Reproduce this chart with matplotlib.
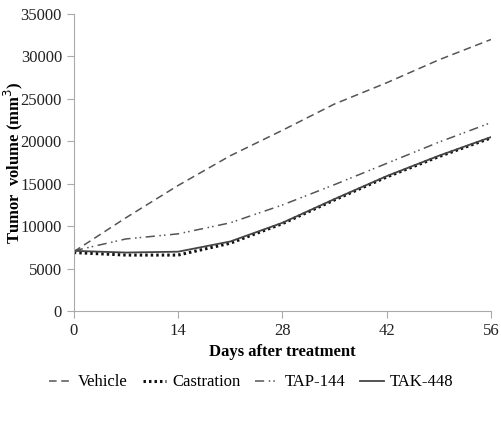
import numpy as np
import matplotlib.pyplot as plt

days = [0, 7, 14, 21, 28, 35, 42, 49, 56]
vehicle = [7000, 11000, 14800, 18300, 21300, 24400, 26900, 29600, 32000]
castration = [6900, 6600, 6600, 8000, 10300, 13100, 15800, 18200, 20400]
tap144 = [7100, 8500, 9100, 10400, 12500, 14900, 17400, 19900, 22200]
tak448 = [7100, 6900, 7000, 8200, 10400, 13200, 15900, 18300, 20500]

xticks = [0, 14, 28, 42, 56]
yticks = np.arange(0, 35001, 5000)

plt.rcParams['font.family'] = ['Liberation Serif']
fig = plt.figure(figsize=(5.02, 4.25), dpi=100)
ax = fig.add_axes([0.147, 0.268, 0.831, 0.699])

ax.plot(days, vehicle, color='#555555', lw=1.1, dashes=(5, 3), label='Vehicle')
ax.plot(days, castration, color='#111111', lw=2.2, dashes=(0.8, 1.0), label='Castration')
ax.plot(days, tap144, color='#555555', lw=1.1, dashes=(6, 3, 1, 2, 1, 3), label='TAP-144')
ax.plot(days, tak448, color='#444444', lw=1.3, label='TAK-448')

ax.set_xlim(0, 56)
ax.set_ylim(0, 35000)
ax.set_xticks(xticks)
ax.set_yticks(yticks)
for s in ['top', 'right']:
    ax.spines[s].set_visible(False)
for s in ['left', 'bottom']:
    ax.spines[s].set_color('#aaaaaa')
ax.tick_params(colors='#aaaaaa', labelcolor='#222222', labelsize=12, length=5)
ax.set_xlabel('Days after treatment', fontsize=12, fontweight='bold', labelpad=4)
ax.set_ylabel('Tumor  volume (mm$^3$)', fontsize=12, fontweight='bold')
ax.yaxis.set_label_coords(-0.118, 0.5)

fig.legend(loc='center', bbox_to_anchor=(0.5, 0.1), ncol=4, frameon=False,
           fontsize=12, handlelength=1.4, handletextpad=0.35, columnspacing=0.9)

fig.savefig('out.png', dpi=100)
